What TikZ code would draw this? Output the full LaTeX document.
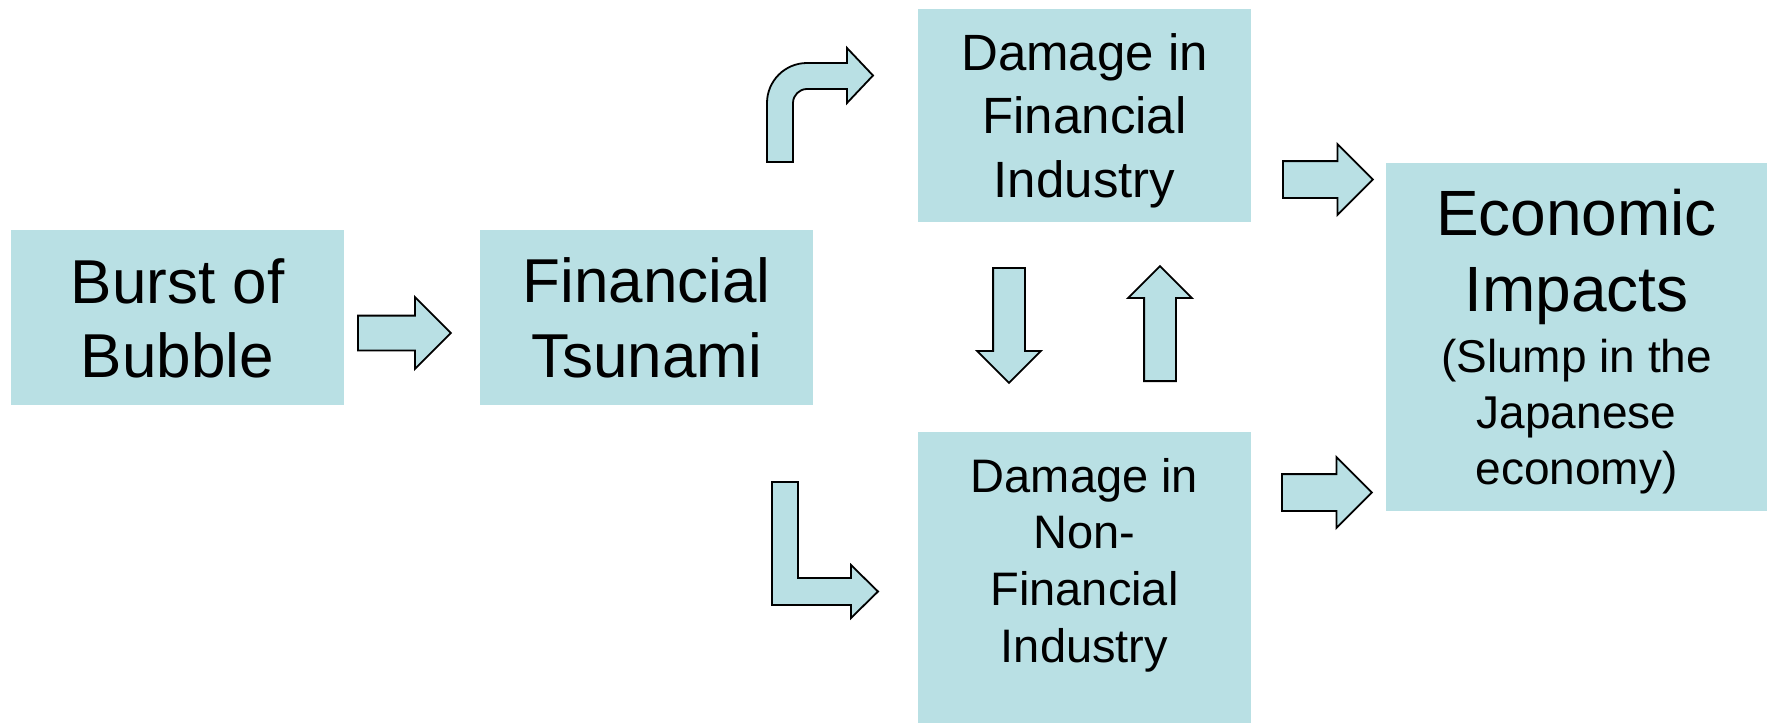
\documentclass[tikz,border=0pt]{standalone}
\usepackage{fontspec}
\setmainfont{Liberation Sans}
\usetikzlibrary{shapes.arrows}
\definecolor{boxfill}{RGB}{185,224,228}
\tikzset{
  box/.style={fill=boxfill, draw=none, inner sep=0pt, minimum width=#1},
  txt/.style={align=center, inner sep=0pt, text=black},
  blockarrow/.style={single arrow, draw=black, fill=boxfill, line width=1.8pt,
    single arrow tip angle=90, single arrow head indent=0pt, inner xsep=0pt,
    anchor=tail},
  bentarrow/.style={draw=black, fill=boxfill, line width=1.8pt, line join=miter}
}
\begin{document}
\begin{tikzpicture}[x=1pt, y=1pt]
\useasboundingbox (0,0) rectangle (1770,-723);

% boxes
\node[box=333pt, minimum height=175pt] (burst) at (177.5,-317.5) {};
\node[box=333pt, minimum height=175pt] (tsunami) at (646.5,-317.5) {};
\node[box=333pt, minimum height=213pt] (finind) at (1084.5,-115.5) {};
\node[box=333pt, minimum height=291pt] (nonfin) at (1084.5,-577.5) {};
\node[box=381pt, minimum height=348pt] (econ) at (1576.5,-337) {};

% box texts
\node[txt, font=\fontsize{62}{74}\selectfont] (burstT) at (177.5,-318.8) {Burst of\\Bubble};
\node[txt, font=\fontsize{62}{75}\selectfont] (tsunamiT) at (646.5,-318.3) {Financial\\Tsunami};
\node[txt, font=\fontsize{51}{63.5}\selectfont] (finindT) at (1084.5,-120.6) {Damage in\\Financial\\Industry};
\node[txt, font=\fontsize{47}{56.7}\selectfont] (nonfinT) at (1084.5,-565) {Damage in\\Non-\\Financial\\Industry};
\node[txt, font=\fontsize{64}{76}\selectfont] (econT) at (1576.5,-256.7) {Economic\\Impacts};
\node[txt, font=\fontsize{46}{56}\selectfont] (econS) at (1576.5,-417) {(Slump in the\\Japanese\\economy)};

% straight block arrows, placed by their tails (shaft width = 2 * inner ysep)
\node[blockarrow, minimum height=93pt, inner ysep=16.5pt, single arrow head extend=18.5pt] (a1) at (357,-333) {};
\node[blockarrow, minimum height=90pt, inner ysep=17.5pt, single arrow head extend=17pt] (a2) at (1282,-179.5) {};
\node[blockarrow, minimum height=90pt, inner ysep=17.5pt, single arrow head extend=17pt] (a3) at (1281,-492.5) {};
\node[blockarrow, minimum height=115pt, inner ysep=15pt, single arrow head extend=16pt, rotate=-90] (down) at (1009,-267) {};
\node[blockarrow, minimum height=115pt, inner ysep=15pt, single arrow head extend=16pt, rotate=90] (up) at (1160,-382) {};

% bent arrow turning up and right
\draw[bentarrow] (767,-162) -- (767,-103)
  arc[start angle=180, end angle=90, radius=40pt] -- (847,-63) -- (847,-48)
  -- (873,-75.5) -- (847,-103) -- (847,-89) -- (807,-89)
  arc[start angle=90, end angle=180, radius=14pt] -- (793,-162) -- cycle;

% L-shaped arrow turning down and right
\draw[bentarrow] (772,-482) -- (772,-605) -- (851,-605) -- (851,-618)
  -- (878,-591.5) -- (851,-565) -- (851,-578) -- (798,-578) -- (798,-482) -- cycle;
\end{tikzpicture}
\end{document}
